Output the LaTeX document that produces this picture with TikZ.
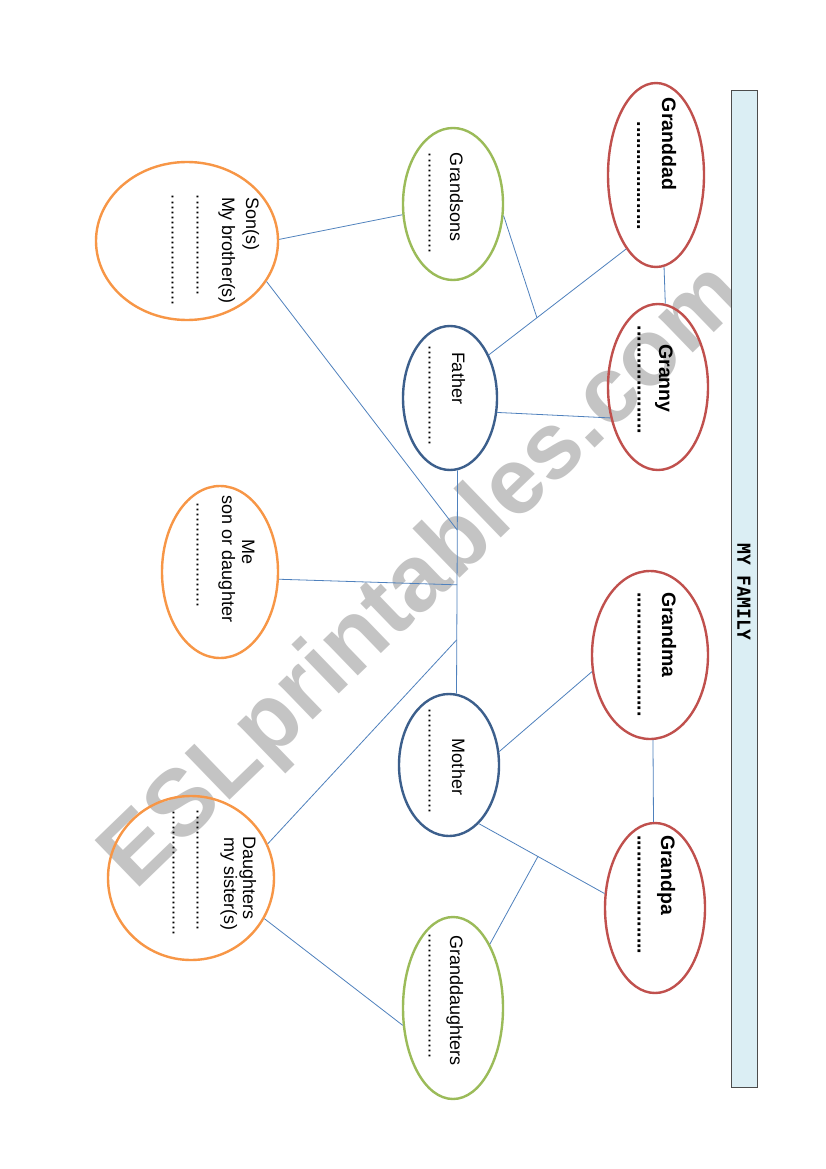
\documentclass[tikz,border=0pt]{standalone}
\usepackage{fontspec}
\setmainfont{Liberation Sans}
\newfontfamily\titlefont{DejaVu Sans Mono}
\usetikzlibrary{shapes.geometric,calc}
\definecolor{gpred}{HTML}{C0504D}
\definecolor{gsgreen}{HTML}{9BBB59}
\definecolor{parblue}{HTML}{3C5F8C}
\definecolor{kidorange}{HTML}{F79646}
\definecolor{connblue}{HTML}{4F81BD}
\definecolor{barfill}{HTML}{DBEEF4}
\definecolor{wmgray}{HTML}{C4C4C4}
\begin{document}
\begin{tikzpicture}[x=1pt,y=-1pt,
  oval/.style={ellipse, draw, line width=2.4pt, inner sep=0pt},
  gp/.style={oval, draw=gpred},
  gs/.style={oval, draw=gsgreen},
  par/.style={oval, draw=parblue},
  kid/.style={oval, draw=kidorange},
  conn/.style={draw=connblue, line width=0.8pt},
  rt/.style={rotate=-90, inner sep=0pt, outer sep=0pt},
  bname/.style={rt, font=\fontsize{19.5}{23}\selectfont\bfseries},
  rname/.style={rt, font=\fontsize{18}{21}\selectfont},
  bdots/.style={rt, font=\fontsize{19.5}{23}\selectfont\bfseries},
  rdots/.style={rt, font=\fontsize{18}{21}\selectfont}
]
\useasboundingbox (0,0) rectangle (826,1169);
\fill[white] (0,0) rectangle (826,1169);

% watermark
\node[rotate=44, text=wmgray, font=\fontsize{94}{100}\selectfont\bfseries] (wm) at (425,578) {ESLprintables.com};

% title bar
\node[draw=black!70, fill=barfill, line width=0.8pt, minimum width=26pt, minimum height=997pt, inner sep=0pt] (bar) at (744,588.5) {};
\node[rt, font=\titlefont\fontsize{18}{20}\selectfont\bfseries] (title) at (744,592) {MY FAMILY};

% ovals
\node[gp, minimum width=96pt, minimum height=184pt] (granddad) at (656,175) {};
\node[gp, minimum width=100pt, minimum height=166pt] (granny) at (658,387) {};
\node[gp, minimum width=116pt, minimum height=168pt] (grandma) at (650,655) {};
\node[gp, minimum width=100pt, minimum height=170pt] (grandpa) at (655,908) {};
\node[gs, minimum width=100pt, minimum height=152pt] (grandsons) at (453,204) {};
\node[par, minimum width=94pt, minimum height=144pt] (father) at (450,398) {};
\node[par, minimum width=100pt, minimum height=142pt] (mother) at (449,765) {};
\node[gs, minimum width=100pt, minimum height=182pt] (granddaughters) at (453,1008) {};
\node[kid, minimum width=182pt, minimum height=158pt] (sons) at (187,241) {};
\node[kid, minimum width=116pt, minimum height=172pt] (me) at (220,572) {};
\node[kid, minimum width=166pt, minimum height=164pt] (daughters) at (191,878) {};

% texts
\node[bname, anchor=base west] (granddad-t) at (662,98) {Granddad};
\node[bdots, anchor=base west] (granddad-d) at (637,122) {....................};
\node[bname, anchor=base] (granny-t) at (659,378.5) {Granny};
\node[bdots, anchor=base] (granny-d) at (637.5,380) {....................};
\node[bname, anchor=base west] (grandma-t) at (662,592) {Grandma};
\node[bdots, anchor=base west] (grandma-d) at (637.5,592) {.......................};
\node[bname, anchor=base west] (grandpa-t) at (661,835) {Grandpa};
\node[bdots, anchor=base west] (grandpa-d) at (637.5,835) {......................};

\node[rname, anchor=base west] (grandsons-t) at (450,153) {Grandsons};
\node[rdots, anchor=base west] (grandsons-d) at (428.5,153) {....................};
\node[rname, anchor=base west] (father-t) at (452,352) {Father};
\node[rdots, anchor=base west] (father-d) at (428.5,345) {....................};
\node[rname, anchor=base] (mother-t) at (452,767) {Mother};
\node[rdots, anchor=base] (mother-d) at (428.5,761) {.....................};
\node[rname, anchor=base west] (granddaughters-t) at (450,935) {Granddaughters};
\node[rdots, anchor=base west] (granddaughters-d) at (428.5,933) {.........................};

\node[rname, anchor=base west] (sons-t1) at (246,197) {Son(s)};
\node[rname, anchor=base west] (sons-t2) at (222,197) {My brother(s)};
\node[rdots, anchor=base west] (sons-d1) at (196.5,195) {....................};
\node[rdots, anchor=base west] (sons-d2) at (171.5,195) {......................};

\node[rname, anchor=base] (me-t1) at (242,552) {Me};
\node[rname, anchor=base] (me-t2) at (222,559) {son or daughter};
\node[rdots, anchor=base] (me-d) at (196.5,555) {.....................};

\node[rname, anchor=base] (daughters-t1) at (243,878) {Daughters};
\node[rname, anchor=base] (daughters-t2) at (224,884) {my sister(s)};
\node[rdots, anchor=base] (daughters-d1) at (196.5,870) {........................};
\node[rdots, anchor=base] (daughters-d2) at (172.5,873) {.........................};

% junctions
\coordinate (j1) at ($(granddad.-112)!0.65!(father.48)$);
\coordinate (j2) at ($(grandpa.164)!0.53!(mother.-63)$);
\coordinate (jsons) at ($(father.-84)!0.268!(mother.84)$);
\coordinate (jme) at ($(father.-84)!0.513!(mother.84)$);
\coordinate (jdau) at ($(father.-84)!0.759!(mother.84)$);

% connectors
\draw[conn] (granddad.-85) -- (granny.85);
\draw[conn] (granddad.-112) -- (father.48);
\draw[conn] (grandsons.-13) -- (j1);
\draw[conn] (sons.1) -- (grandsons.192);
\draw[conn] (granny.213) -- (father.-17);
\draw[conn] (father.-84) -- (mother.84);
\draw[conn] (sons.-27) -- (jsons);
\draw[conn] (me.-7) -- (jme);
\draw[conn] (daughters.24) -- (jdau);
\draw[conn] (daughters.-29) -- (granddaughters.199);
\draw[conn] (grandma.196) -- (mother.15);
\draw[conn] (grandma.-88) -- (grandpa.91);
\draw[conn] (grandpa.164) -- (mother.-63);
\draw[conn] (j2) -- (granddaughters.60);
\end{tikzpicture}
\end{document}
